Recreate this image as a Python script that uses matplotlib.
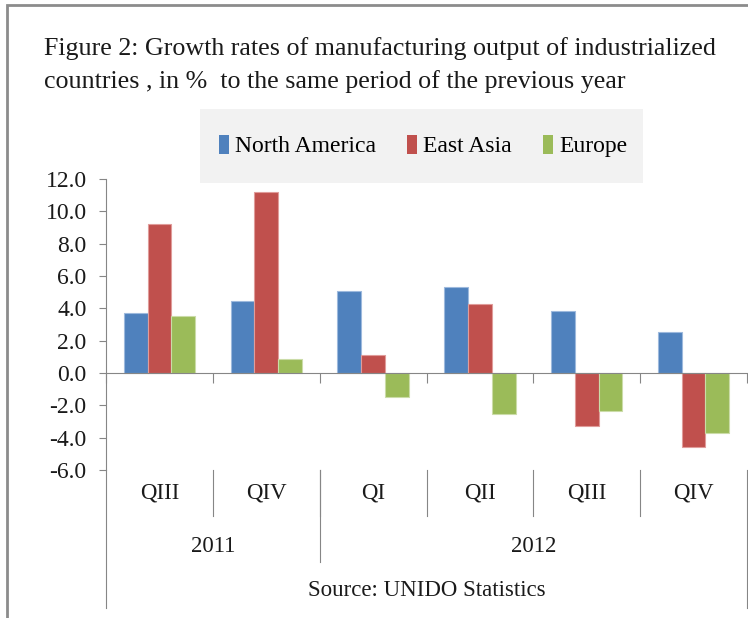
import matplotlib
matplotlib.use("Agg")
import matplotlib.pyplot as plt
import matplotlib.patches as mpatches
import matplotlib.transforms as mtransforms
import numpy as np

plt.rcParams['font.family'] = ['Liberation Serif', 'DejaVu Serif']

quarters = ["QIII", "QIV", "QI", "QII", "QIII", "QIV"]
years = ["2011", "2012"]
year_spans = [(0, 2), (2, 6)]
series_names = ["North America", "East Asia", "Europe"]
north_america = [3.7, 4.45, 5.07, 5.35, 3.81, 2.52]
east_asia = [9.2, 11.17, 1.11, 4.25, -3.3, -4.55]
europe = [3.55, 0.85, -1.48, -2.52, -2.33, -3.73]
colors = ["#4F81BD", "#C0504D", "#9BBB59"]
edge_colors = ["#9DB9DD", "#E09C9A", "#CBDCA8"]
yticks = [12, 10, 8, 6, 4, 2, 0, -2, -4, -6]

W, H = 748, 618
fig = plt.figure(figsize=(W / 100, H / 100), dpi=100)

def fx(px):
    return px / W

def fy(py):
    return 1 - py / H

# figure border (gray frame)
fig.patches.append(mpatches.Rectangle((fx(7), fy(618 + 5)), fx(760), (618) / H,
                                      transform=fig.transFigure, fill=False,
                                      edgecolor="#8C8C8C", linewidth=2.0))

# title
fig.text(fx(44), fy(49), "Figure 2: Growth rates of manufacturing output of industrialized",
         fontsize=18.7, va="center", ha="left", color="#1a1a1a")
fig.text(fx(44), fy(82), "countries , in %  to the same period of the previous year",
         fontsize=18.7, va="center", ha="left", color="#1a1a1a")

# legend background
fig.patches.append(mpatches.Rectangle((fx(200), fy(183)), fx(443), (183 - 109) / H,
                                      transform=fig.transFigure, facecolor="#F2F2F2",
                                      edgecolor="none"))

ax = fig.add_axes([fx(106), fy(470), fx(747 - 106), (470 - 179) / H])
x = np.arange(len(quarters))
bw = 0.223
for i, (vals, c, ec, name) in enumerate(zip([north_america, east_asia, europe], colors,
                                            edge_colors, series_names)):
    ax.bar(x + (i - 1) * bw, vals, width=bw, color=c, edgecolor=ec, linewidth=0.8,
           label=name, zorder=2)

ax.set_xlim(-0.5, len(quarters) - 0.5)
ax.set_ylim(-6, 12)
ax.set_yticks(yticks)
ax.set_yticklabels([f"{v:.1f}" for v in yticks], fontsize=17)
axis_color = "#868686"
for s in ["top", "right"]:
    ax.spines[s].set_visible(False)
ax.spines["left"].set_color(axis_color)
ax.spines["bottom"].set_position(("data", 0))
ax.spines["bottom"].set_color(axis_color)
ax.spines["bottom"].set_zorder(3)
ax.tick_params(axis="y", direction="out", length=5, color=axis_color, pad=9,
               labelcolor="#1a1a1a")
ax.set_xticks(np.arange(-0.5, len(quarters), 1.0))
ax.set_xticklabels([])
ax.tick_params(axis="x", direction="out", length=7, color=axis_color)

trans = mtransforms.blended_transform_factory(ax.transData, ax.transAxes)
pxh = 470 - 179  # axes height in px

def ay(py):
    return (470 - py) / pxh

lab_fs = 16.5
# category labels
for xi, q in zip(x, quarters):
    ax.text(xi, ay(493), q, transform=trans, ha="center", va="center", fontsize=lab_fs,
            color="#1a1a1a")
# separators between quarters
for b in np.arange(0.5, len(quarters) - 1, 1.0):
    ax.plot([b, b], [ay(470), ay(516)], transform=trans, color=axis_color, lw=0.8,
            clip_on=False)
# year labels and separators
for yr, (a, b) in zip(years, year_spans):
    ax.text((a + b - 1) / 2, ay(547), yr, transform=trans, ha="center", va="center",
            fontsize=lab_fs, color="#1a1a1a")
for (a, b) in year_spans[:-1]:
    ax.plot([b - 0.5, b - 0.5], [ay(470), ay(562)], transform=trans, color=axis_color,
            lw=0.8, clip_on=False)
# outer lines
ax.plot([-0.5, -0.5], [ay(470), ay(608)], transform=trans, color=axis_color, lw=0.8,
        clip_on=False)
ax.plot([len(quarters) - 0.5] * 2, [ay(470), ay(608)], transform=trans, color=axis_color,
        lw=0.8, clip_on=False)

ax.text((len(quarters) - 1) / 2, ay(591), "Source: UNIDO Statistics", transform=trans,
        ha="center", va="center", fontsize=lab_fs, color="#1a1a1a")

handles, labels = ax.get_legend_handles_labels()
leg = fig.legend(handles, labels, loc="center", bbox_to_anchor=(fx(423), fy(146)),
                 ncol=3, frameon=False, fontsize=17, handlelength=0.45, handleheight=0.9,
                 handletextpad=0.25, columnspacing=1.3)
for h in leg.legend_handles:
    h.set_edgecolor("none")

fig.savefig("out.png", dpi=100)
